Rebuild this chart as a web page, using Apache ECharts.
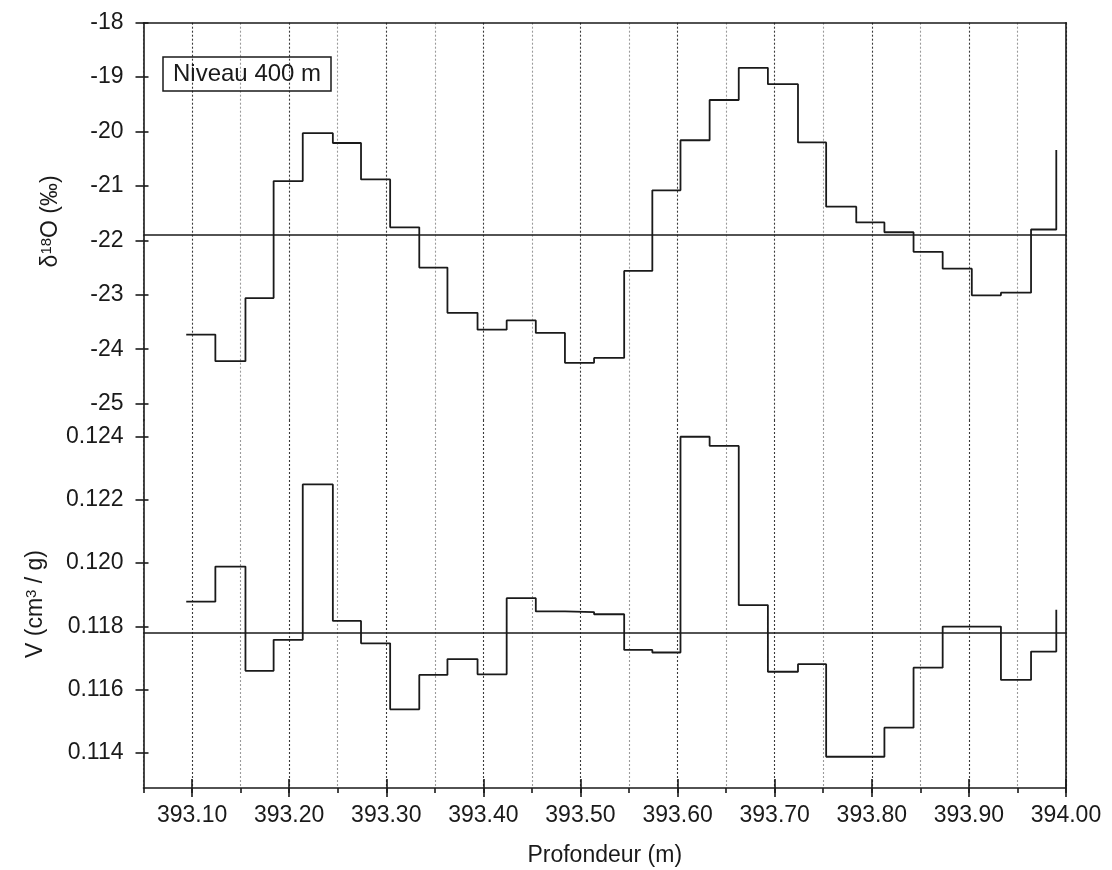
<!DOCTYPE html>
<html>
<head>
<meta charset="utf-8">
<title>Niveau 400 m</title>
<script src="https://cdn.jsdelivr.net/npm/echarts@6/dist/echarts.min.js"></script>
<style>
html, body { margin: 0; padding: 0; background: #fff; }
#main { width: 1112px; height: 870px; }
</style>
</head>
<body>
<div id="main"></div>
<script>
// profondeur des échantillons (m)
var depth = [393.094, 393.124, 393.155, 393.184, 393.214, 393.245, 393.274, 393.304,
	393.334, 393.363, 393.394, 393.424, 393.454, 393.484, 393.514, 393.545,
	393.574, 393.603, 393.633, 393.663, 393.693, 393.724, 393.753, 393.784,
	393.813, 393.843, 393.873, 393.903, 393.933, 393.964, 393.990];

// delta 18O (permil)
var d18O = [-23.73, -24.22, -23.06, -20.91, -20.03, -20.21, -20.88, -21.76,
	-22.50, -23.33, -23.64, -23.47, -23.70, -24.25, -24.16, -22.56,
	-21.08, -20.16, -19.42, -18.83, -19.13, -20.20, -21.38, -21.67,
	-21.85, -22.21, -22.52, -23.01, -22.96, -21.80, -20.34];

// V (cm3/g)
var volume = [0.11878, 0.11989, 0.11659, 0.11757, 0.12249, 0.11817, 0.11746, 0.11537,
	0.11646, 0.11696, 0.11648, 0.11889, 0.11847, 0.11845, 0.11838, 0.11725,
	0.11717, 0.12400, 0.12371, 0.11867, 0.11656, 0.11680, 0.11387, 0.11387,
	0.11479, 0.11669, 0.11799, 0.11799, 0.11630, 0.11720, 0.11852];

var d18OMean = -21.89;
var volumeMean = 0.1178;

var xLabelTicks = [393.1, 393.2, 393.3, 393.4, 393.5, 393.6, 393.7, 393.8, 393.9, 394.0];
var xGridTicks = [393.05, 393.1, 393.15, 393.2, 393.25, 393.3, 393.35, 393.4, 393.45, 393.5,
	393.55, 393.6, 393.65, 393.7, 393.75, 393.8, 393.85, 393.9, 393.95, 394.0];
var d18OTicks = [-25, -24, -23, -22, -21, -20, -19, -18];
var volumeTicks = [0.114, 0.116, 0.118, 0.120, 0.122, 0.124];

var ink = '#1a1a1a';
var font = 'Liberation Sans';
var xMin = 393.05, xMax = 394.00;

function pairs(ys) {
	var out = [];
	for (var i = 0; i < depth.length; i++) {
		out.push([depth[i], ys[i]]);
	}
	return out;
}

var axisLineStyle = { color: ink, width: 1.6 };
var gridLineStyle = { color: ['#9a9a9a', '#3a3a3a'], type: [2, 2], width: 1.1 };

// axe de bordure (droite), sans graduation
function borderY(grid, min, max) {
	return {
		type: 'value', gridIndex: grid, position: 'right', min: min, max: max,
		axisLine: { show: true, lineStyle: axisLineStyle },
		axisTick: { show: false }, axisLabel: { show: false }, splitLine: { show: false }
	};
}
// graduations vers l'intérieur
function innerY(grid, min, max, ticks) {
	return {
		type: 'value', gridIndex: grid, position: 'left', min: min, max: max,
		axisLine: { show: false },
		axisTick: { show: true, inside: true, length: 5, customValues: ticks, lineStyle: axisLineStyle },
		axisLabel: { show: false }, splitLine: { show: false }
	};
}
function mainY(grid, min, max, ticks, name, gap, fmt) {
	return {
		type: 'value', gridIndex: grid, position: 'left', min: min, max: max,
		name: name, nameLocation: 'middle', nameGap: gap, nameRotate: 90,
		nameTextStyle: {
			rich: {
				t: { fontSize: 23, color: ink, fontFamily: font },
				s: { fontSize: 15, color: ink, fontFamily: font, verticalAlign: 'top' }
			}
		},
		axisLine: { show: true, lineStyle: axisLineStyle },
		axisTick: { show: true, inside: false, length: 8, customValues: ticks, lineStyle: axisLineStyle },
		axisLabel: { customValues: ticks, margin: 20, fontSize: 23, color: ink, fontFamily: font, formatter: fmt },
		splitLine: { show: false }
	};
}
function majorX(inside) {
	return {
		type: 'value', gridIndex: 1, position: 'bottom', min: xMin, max: xMax,
		axisLine: { show: false, onZero: false },
		axisTick: { show: true, inside: inside, length: 9, customValues: xLabelTicks, lineStyle: axisLineStyle },
		axisLabel: { show: false }, splitLine: { show: false }
	};
}
function meanLine(v) {
	return {
		silent: true, symbol: 'none', precision: 6, label: { show: false },
		lineStyle: { color: ink, width: 1.6, type: 'solid' },
		data: [{ yAxis: v }]
	};
}

var chart = echarts.init(document.getElementById('main'));

chart.setOption({
	animation: false,
	backgroundColor: '#fff',
	title: {
		text: 'Niveau 400 m',
		left: 163, top: 57,
		padding: [5, 10, 5, 10],
		borderColor: ink, borderWidth: 1.5,
		textStyle: { fontSize: 24, fontWeight: 'normal', color: ink, fontFamily: font }
	},
	grid: [
		{ left: 143.5, right: 46, top: 22.7, height: 397.3 },
		{ left: 143.5, right: 46, top: 420, height: 368 }
	],
	xAxis: [
		{
			type: 'value', gridIndex: 0, position: 'top', min: xMin, max: xMax,
			axisLine: { show: true, onZero: false, lineStyle: axisLineStyle },
			axisTick: { show: false, customValues: xGridTicks },
			axisLabel: { show: false },
			splitLine: { show: true, lineStyle: gridLineStyle }
		},
		{
			type: 'value', gridIndex: 1, position: 'bottom', min: xMin, max: xMax,
			name: 'Profondeur (m)', nameLocation: 'middle', nameGap: 56,
			nameTextStyle: { fontSize: 23, color: ink, fontFamily: font },
			axisLine: { show: true, onZero: false, lineStyle: axisLineStyle },
			axisTick: { show: true, inside: false, length: 5, customValues: xGridTicks, lineStyle: axisLineStyle },
			axisLabel: {
				customValues: xLabelTicks, margin: 16, fontSize: 23, color: ink, fontFamily: font,
				formatter: function (v) { return v.toFixed(2); }
			},
			splitLine: { show: true, lineStyle: gridLineStyle }
		},
		majorX(false),
		majorX(true)
	],
	yAxis: [
		mainY(0, -25.3, -18, d18OTicks, '{t|δ}{s|18}{t|O (‰)}', 81, function (v) { return String(v); }),
		innerY(0, -25.3, -18, d18OTicks),
		borderY(0, -25.3, -18),
		mainY(1, 0.11288, 0.12453, volumeTicks, '{t|V (cm}{s|3}{t| / g)}', 96, function (v) { return v.toFixed(3); }),
		innerY(1, 0.11288, 0.12453, volumeTicks),
		borderY(1, 0.11288, 0.12453)
	],
	series: [
		{
			name: 'd18O', type: 'line', step: 'end',
			xAxisIndex: 0, yAxisIndex: 0,
			data: pairs(d18O),
			symbol: 'none', silent: true,
			lineStyle: { color: ink, width: 1.8 },
			markLine: meanLine(d18OMean)
		},
		{
			name: 'V', type: 'line', step: 'end',
			xAxisIndex: 1, yAxisIndex: 3,
			data: pairs(volume),
			symbol: 'none', silent: true,
			lineStyle: { color: ink, width: 1.8 },
			markLine: meanLine(volumeMean)
		}
	]
});
</script>
</body>
</html>
